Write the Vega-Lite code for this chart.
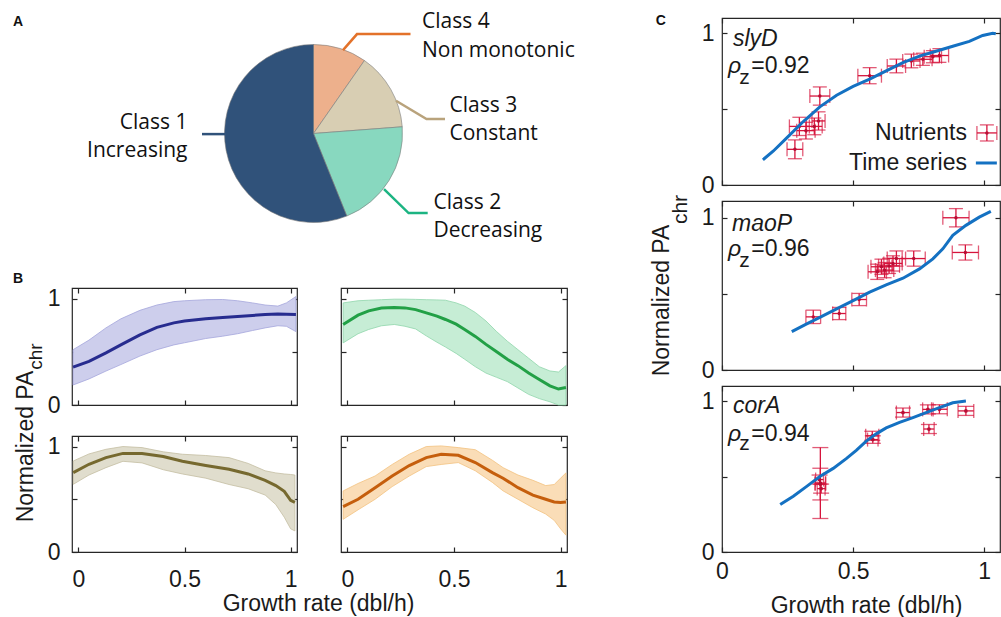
{
"$schema": "https://vega.github.io/schema/vega-lite/v6.json",
"padding": {"left": 12, "top": 10, "right": 0, "bottom": 0},
"background": "white",
"config": {
  "view": {"stroke": "#262626", "strokeWidth": 1.2},
  "axis": {"grid": false, "domain": false, "tickSize": -5, "tickColor": "#262626", "tickWidth": 1.2, "labelFont": "Liberation Sans", "labelFontSize": 23, "labelColor": "#1a1a1a", "titleFont": "Liberation Sans", "titleFontSize": 23, "titleFontWeight": "normal", "titleColor": "#1a1a1a", "labelFlush": false, "labelOverlap": false},
  "text": {"font": "Liberation Sans", "color": "#1a1a1a"}
},
"datasets": {
  "pie": [
    {"cls": "Class 4", "v": 9.7, "o": 1},
    {"cls": "Class 3", "v": 14.1, "o": 2},
    {"cls": "Class 2", "v": 20.1, "o": 3},
    {"cls": "Class 1", "v": 56.1, "o": 4}
  ],
  "alines": [
    {"cls": "Class 4", "i": 0, "x": 0.295, "y": 0.834},
    {"cls": "Class 4", "i": 1, "x": 0.435, "y": 0.994},
    {"cls": "Class 4", "i": 2, "x": 0.97, "y": 0.994},
    {"cls": "Class 3", "i": 0, "x": 0.825, "y": 0.327},
    {"cls": "Class 3", "i": 1, "x": 1.13, "y": 0.144},
    {"cls": "Class 3", "i": 2, "x": 1.315, "y": 0.144},
    {"cls": "Class 2", "i": 0, "x": 0.705, "y": -0.556},
    {"cls": "Class 2", "i": 1, "x": 0.951, "y": -0.796},
    {"cls": "Class 2", "i": 2, "x": 1.142, "y": -0.796},
    {"cls": "Class 1", "i": 0, "x": -1.115, "y": -0.006},
    {"cls": "Class 1", "i": 1, "x": -0.885, "y": -0.006}
  ],
  "atext": [
    {"t": "Class 4", "s": "l", "x": 1.085, "y": 1.12},
    {"t": "Non monotonic", "s": "l", "x": 1.085, "y": 0.827},
    {"t": "Class 3", "s": "l", "x": 1.36, "y": 0.277},
    {"t": "Constant", "s": "l", "x": 1.36, "y": -0.006},
    {"t": "Class 2", "s": "l", "x": 1.2, "y": -0.69},
    {"t": "Decreasing", "s": "l", "x": 1.2, "y": -0.973},
    {"t": "Class 1", "s": "r", "x": -1.26, "y": 0.11},
    {"t": "Increasing", "s": "r", "x": -1.26, "y": -0.173}
  ],
  "letters": [
    {"p": "A", "x": -2.955, "y": 1.117},
    {"p": "B", "x": -0.2845, "y": 1.187},
    {"p": "C", "x": -0.2336, "y": 1.08}
  ],
  "subs": [
    {"p": "B", "t": "chr", "x": -0.17, "y": 0.455},
    {"p": "C", "t": "chr", "x": -0.134, "y": 1.054}
  ],
  "bdata": [
    {"c":"inc","x":-0.025,"y":0.356,"lo":0.188,"hi":0.52},
    {"c":"inc","x":0.05,"y":0.41,"lo":0.245,"hi":0.61},
    {"c":"inc","x":0.13,"y":0.49,"lo":0.319,"hi":0.725},
    {"c":"inc","x":0.2,"y":0.565,"lo":0.38,"hi":0.81},
    {"c":"inc","x":0.29,"y":0.66,"lo":0.46,"hi":0.89},
    {"c":"inc","x":0.37,"y":0.73,"lo":0.52,"hi":0.94},
    {"c":"inc","x":0.45,"y":0.772,"lo":0.565,"hi":0.972},
    {"c":"inc","x":0.5,"y":0.79,"lo":0.585,"hi":0.98},
    {"c":"inc","x":0.6,"y":0.81,"lo":0.625,"hi":0.99},
    {"c":"inc","x":0.68,"y":0.823,"lo":0.647,"hi":0.992},
    {"c":"inc","x":0.75,"y":0.833,"lo":0.67,"hi":0.98},
    {"c":"inc","x":0.82,"y":0.842,"lo":0.7,"hi":0.96},
    {"c":"inc","x":0.88,"y":0.851,"lo":0.725,"hi":0.94},
    {"c":"inc","x":0.94,"y":0.855,"lo":0.745,"hi":0.93},
    {"c":"inc","x":0.98,"y":0.853,"lo":0.74,"hi":0.96},
    {"c":"inc","x":1.025,"y":0.851,"lo":0.69,"hi":1.02},
    {"c":"dec","x":-0.02,"y":0.757,"lo":0.584,"hi":0.96},
    {"c":"dec","x":0.05,"y":0.845,"lo":0.67,"hi":0.98},
    {"c":"dec","x":0.1,"y":0.885,"lo":0.71,"hi":0.985},
    {"c":"dec","x":0.16,"y":0.912,"lo":0.745,"hi":0.99},
    {"c":"dec","x":0.22,"y":0.917,"lo":0.757,"hi":0.995},
    {"c":"dec","x":0.27,"y":0.913,"lo":0.74,"hi":0.995},
    {"c":"dec","x":0.32,"y":0.897,"lo":0.715,"hi":0.993},
    {"c":"dec","x":0.37,"y":0.866,"lo":0.65,"hi":0.99},
    {"c":"dec","x":0.42,"y":0.835,"lo":0.59,"hi":0.988},
    {"c":"dec","x":0.46,"y":0.804,"lo":0.545,"hi":0.985},
    {"c":"dec","x":0.51,"y":0.76,"lo":0.485,"hi":0.96},
    {"c":"dec","x":0.55,"y":0.71,"lo":0.43,"hi":0.93},
    {"c":"dec","x":0.6,"y":0.645,"lo":0.36,"hi":0.87},
    {"c":"dec","x":0.65,"y":0.57,"lo":0.3,"hi":0.79},
    {"c":"dec","x":0.7,"y":0.5,"lo":0.26,"hi":0.69},
    {"c":"dec","x":0.75,"y":0.43,"lo":0.22,"hi":0.6},
    {"c":"dec","x":0.8,"y":0.37,"lo":0.16,"hi":0.52},
    {"c":"dec","x":0.85,"y":0.3,"lo":0.1,"hi":0.44},
    {"c":"dec","x":0.9,"y":0.24,"lo":0.06,"hi":0.36},
    {"c":"dec","x":0.95,"y":0.18,"lo":0.03,"hi":0.32},
    {"c":"dec","x":0.99,"y":0.15,"lo":0.0,"hi":0.31},
    {"c":"dec","x":1.025,"y":0.165,"lo":0.0,"hi":0.37},
    {"c":"const","x":-0.024,"y":0.753,"lo":0.642,"hi":0.863},
    {"c":"const","x":0.05,"y":0.832,"lo":0.73,"hi":0.93},
    {"c":"const","x":0.13,"y":0.895,"lo":0.8,"hi":0.974},
    {"c":"const","x":0.21,"y":0.935,"lo":0.86,"hi":1.0},
    {"c":"const","x":0.3,"y":0.935,"lo":0.845,"hi":0.99},
    {"c":"const","x":0.4,"y":0.905,"lo":0.78,"hi":0.95},
    {"c":"const","x":0.49,"y":0.86,"lo":0.74,"hi":0.927},
    {"c":"const","x":0.6,"y":0.82,"lo":0.7,"hi":0.915},
    {"c":"const","x":0.71,"y":0.785,"lo":0.64,"hi":0.895},
    {"c":"const","x":0.8,"y":0.74,"lo":0.6,"hi":0.84},
    {"c":"const","x":0.88,"y":0.68,"lo":0.54,"hi":0.77},
    {"c":"const","x":0.93,"y":0.63,"lo":0.45,"hi":0.75},
    {"c":"const","x":0.97,"y":0.575,"lo":0.33,"hi":0.74},
    {"c":"const","x":1.0,"y":0.49,"lo":0.22,"hi":0.735},
    {"c":"const","x":1.02,"y":0.47,"lo":0.2,"hi":0.73},
    {"c":"non","x":-0.02,"y":0.43,"lo":0.31,"hi":0.579},
    {"c":"non","x":0.05,"y":0.5,"lo":0.4,"hi":0.65},
    {"c":"non","x":0.13,"y":0.61,"lo":0.5,"hi":0.721},
    {"c":"non","x":0.21,"y":0.72,"lo":0.62,"hi":0.83},
    {"c":"non","x":0.29,"y":0.82,"lo":0.72,"hi":0.927},
    {"c":"non","x":0.37,"y":0.895,"lo":0.81,"hi":1.0},
    {"c":"non","x":0.44,"y":0.927,"lo":0.83,"hi":1.006},
    {"c":"non","x":0.52,"y":0.917,"lo":0.848,"hi":0.99},
    {"c":"non","x":0.6,"y":0.848,"lo":0.77,"hi":0.97},
    {"c":"non","x":0.68,"y":0.753,"lo":0.66,"hi":0.87},
    {"c":"non","x":0.73,"y":0.7,"lo":0.58,"hi":0.8},
    {"c":"non","x":0.8,"y":0.61,"lo":0.5,"hi":0.73},
    {"c":"non","x":0.87,"y":0.54,"lo":0.42,"hi":0.68},
    {"c":"non","x":0.93,"y":0.5,"lo":0.36,"hi":0.63},
    {"c":"non","x":0.97,"y":0.475,"lo":0.3,"hi":0.64},
    {"c":"non","x":1.0,"y":0.47,"lo":0.22,"hi":0.7},
    {"c":"non","x":1.025,"y":0.475,"lo":0.16,"hi":0.75}
  ],
  "pts": [
    {"gene":"slyD","x":0.278,"y":0.235,"xlo":0.248,"xhi":0.308,"ylo":0.173,"yhi":0.297},
    {"gene":"slyD","x":0.295,"y":0.386,"xlo":0.257,"xhi":0.333,"ylo":0.326,"yhi":0.446},
    {"gene":"slyD","x":0.32,"y":0.358,"xlo":0.285,"xhi":0.355,"ylo":0.303,"yhi":0.413},
    {"gene":"slyD","x":0.352,"y":0.386,"xlo":0.322,"xhi":0.382,"ylo":0.331,"yhi":0.441},
    {"gene":"slyD","x":0.368,"y":0.422,"xlo":0.343,"xhi":0.393,"ylo":0.362,"yhi":0.482},
    {"gene":"slyD","x":0.373,"y":0.586,"xlo":0.335,"xhi":0.411,"ylo":0.526,"yhi":0.646},
    {"gene":"slyD","x":0.563,"y":0.72,"xlo":0.518,"xhi":0.608,"ylo":0.667,"yhi":0.773},
    {"gene":"slyD","x":0.665,"y":0.784,"xlo":0.63,"xhi":0.7,"ylo":0.739,"yhi":0.829},
    {"gene":"slyD","x":0.722,"y":0.817,"xlo":0.689,"xhi":0.755,"ylo":0.772,"yhi":0.862},
    {"gene":"slyD","x":0.766,"y":0.828,"xlo":0.731,"xhi":0.801,"ylo":0.788,"yhi":0.868},
    {"gene":"slyD","x":0.804,"y":0.845,"xlo":0.771,"xhi":0.837,"ylo":0.805,"yhi":0.885},
    {"gene":"slyD","x":0.829,"y":0.853,"xlo":0.794,"xhi":0.864,"ylo":0.808,"yhi":0.898},
    {"gene":"legend","x":1.01,"y":0.343,"xlo":0.972,"xhi":1.048,"ylo":0.29,"yhi":0.396},
    {"gene":"maoP","x":0.348,"y":0.349,"xlo":0.32,"xhi":0.376,"ylo":0.305,"yhi":0.393},
    {"gene":"maoP","x":0.447,"y":0.371,"xlo":0.422,"xhi":0.472,"ylo":0.331,"yhi":0.411},
    {"gene":"maoP","x":0.523,"y":0.463,"xlo":0.495,"xhi":0.551,"ylo":0.423,"yhi":0.503},
    {"gene":"maoP","x":0.592,"y":0.645,"xlo":0.557,"xhi":0.627,"ylo":0.595,"yhi":0.695},
    {"gene":"maoP","x":0.608,"y":0.678,"xlo":0.568,"xhi":0.648,"ylo":0.628,"yhi":0.728},
    {"gene":"maoP","x":0.62,"y":0.656,"xlo":0.585,"xhi":0.655,"ylo":0.606,"yhi":0.706},
    {"gene":"maoP","x":0.637,"y":0.684,"xlo":0.597,"xhi":0.677,"ylo":0.634,"yhi":0.734},
    {"gene":"maoP","x":0.652,"y":0.7,"xlo":0.617,"xhi":0.687,"ylo":0.65,"yhi":0.75},
    {"gene":"maoP","x":0.665,"y":0.732,"xlo":0.63,"xhi":0.7,"ylo":0.682,"yhi":0.782},
    {"gene":"maoP","x":0.731,"y":0.732,"xlo":0.687,"xhi":0.775,"ylo":0.682,"yhi":0.782},
    {"gene":"maoP","x":0.892,"y":1.0,"xlo":0.842,"xhi":0.942,"ylo":0.94,"yhi":1.06},
    {"gene":"maoP","x":0.928,"y":0.772,"xlo":0.878,"xhi":0.978,"ylo":0.722,"yhi":0.822},
    {"gene":"corA","x":0.375,"y":0.457,"xlo":0.355,"xhi":0.395,"ylo":0.222,"yhi":0.692},
    {"gene":"corA","x":0.375,"y":0.45,"xlo":0.355,"xhi":0.395,"ylo":0.345,"yhi":0.555},
    {"gene":"corA","x":0.372,"y":0.48,"xlo":0.357,"xhi":0.387,"ylo":0.45,"yhi":0.51},
    {"gene":"corA","x":0.378,"y":0.42,"xlo":0.363,"xhi":0.393,"ylo":0.39,"yhi":0.45},
    {"gene":"corA","x":0.573,"y":0.77,"xlo":0.548,"xhi":0.598,"ylo":0.74,"yhi":0.8},
    {"gene":"corA","x":0.575,"y":0.745,"xlo":0.555,"xhi":0.595,"ylo":0.72,"yhi":0.77},
    {"gene":"corA","x":0.69,"y":0.924,"xlo":0.665,"xhi":0.715,"ylo":0.894,"yhi":0.954},
    {"gene":"corA","x":0.785,"y":0.945,"xlo":0.765,"xhi":0.805,"ylo":0.915,"yhi":0.975},
    {"gene":"corA","x":0.789,"y":0.815,"xlo":0.769,"xhi":0.809,"ylo":0.785,"yhi":0.845},
    {"gene":"corA","x":0.829,"y":0.946,"xlo":0.799,"xhi":0.859,"ylo":0.916,"yhi":0.976},
    {"gene":"corA","x":0.93,"y":0.935,"xlo":0.9,"xhi":0.96,"ylo":0.905,"yhi":0.965}
  ],
  "ts": [
    {"gene":"slyD","x":0.156,"y":0.166},{"gene":"slyD","x":0.196,"y":0.224},{"gene":"slyD","x":0.247,"y":0.31},
    {"gene":"slyD","x":0.31,"y":0.418},{"gene":"slyD","x":0.373,"y":0.515},{"gene":"slyD","x":0.437,"y":0.591},
    {"gene":"slyD","x":0.5,"y":0.649},{"gene":"slyD","x":0.563,"y":0.698},{"gene":"slyD","x":0.626,"y":0.752},
    {"gene":"slyD","x":0.69,"y":0.806},{"gene":"slyD","x":0.753,"y":0.849},{"gene":"slyD","x":0.816,"y":0.881},
    {"gene":"slyD","x":0.88,"y":0.914},{"gene":"slyD","x":0.943,"y":0.946},{"gene":"slyD","x":0.994,"y":0.985},
    {"gene":"slyD","x":1.032,"y":1.0},{"gene":"slyD","x":1.044,"y":0.996},
    {"gene":"legend","x":0.968,"y":0.145},{"gene":"legend","x":1.048,"y":0.145},
    {"gene":"maoP","x":0.266,"y":0.252},{"gene":"maoP","x":0.323,"y":0.303},{"gene":"maoP","x":0.373,"y":0.346},
    {"gene":"maoP","x":0.437,"y":0.401},{"gene":"maoP","x":0.5,"y":0.456},{"gene":"maoP","x":0.563,"y":0.511},
    {"gene":"maoP","x":0.626,"y":0.559},{"gene":"maoP","x":0.69,"y":0.603},{"gene":"maoP","x":0.753,"y":0.664},
    {"gene":"maoP","x":0.804,"y":0.73},{"gene":"maoP","x":0.842,"y":0.796},{"gene":"maoP","x":0.88,"y":0.884},
    {"gene":"maoP","x":0.93,"y":0.95},{"gene":"maoP","x":0.981,"y":1.004},{"gene":"maoP","x":1.025,"y":1.042},
    {"gene":"corA","x":0.222,"y":0.315},{"gene":"corA","x":0.272,"y":0.37},{"gene":"corA","x":0.323,"y":0.435},
    {"gene":"corA","x":0.373,"y":0.5},{"gene":"corA","x":0.424,"y":0.554},{"gene":"corA","x":0.475,"y":0.62},
    {"gene":"corA","x":0.512,"y":0.674},{"gene":"corA","x":0.55,"y":0.735},{"gene":"corA","x":0.588,"y":0.783},
    {"gene":"corA","x":0.626,"y":0.822},{"gene":"corA","x":0.677,"y":0.859},{"gene":"corA","x":0.728,"y":0.891},
    {"gene":"corA","x":0.778,"y":0.924},{"gene":"corA","x":0.829,"y":0.957},{"gene":"corA","x":0.88,"y":0.989},
    {"gene":"corA","x":0.93,"y":1.0}
  ],
  "cann": [
    {"gene":"slyD","k":"g","t":"slyD","x":0.042,"y":0.962},
    {"gene":"slyD","k":"r","t":"ρ","x":0.023,"y":0.784},
    {"gene":"slyD","k":"s","t":"z","x":0.066,"y":0.706},
    {"gene":"slyD","k":"v","t":"=0.92","x":0.112,"y":0.784},
    {"gene":"slyD","k":"l","t":"Nutrients","x":0.934,"y":0.343},
    {"gene":"slyD","k":"l","t":"Time series","x":0.934,"y":0.145},
    {"gene":"maoP","k":"g","t":"maoP","x":0.038,"y":0.959},
    {"gene":"maoP","k":"r","t":"ρ","x":0.023,"y":0.795},
    {"gene":"maoP","k":"s","t":"z","x":0.066,"y":0.713},
    {"gene":"maoP","k":"v","t":"=0.96","x":0.112,"y":0.795},
    {"gene":"corA","k":"g","t":"corA","x":0.042,"y":0.969},
    {"gene":"corA","k":"r","t":"ρ","x":0.023,"y":0.782},
    {"gene":"corA","k":"s","t":"z","x":0.066,"y":0.716},
    {"gene":"corA","k":"v","t":"=0.94","x":0.112,"y":0.782}
  ]
},
"spacing": 74,
"hconcat": [
 {"spacing": 22, "vconcat": [
  {
   "width": 483, "height": 231, "view": {"stroke": null},
   "layer": [
    {"data": {"name": "pie"}, "mark": {"type": "arc", "outerRadius": 89, "stroke": "#7a7a7a", "strokeWidth": 0.6},
     "encoding": {"theta": {"field": "v", "type": "quantitative"}, "order": {"field": "o", "type": "quantitative"},
      "fill": {"field": "cls", "type": "nominal", "scale": {"domain": ["Class 1","Class 2","Class 3","Class 4"], "range": ["#30527A","#88D8BF","#D8CEB3","#EDB08C"]}, "legend": null}}},
    {"data": {"name": "alines"}, "mark": {"type": "line", "strokeWidth": 2.5},
     "encoding": {"x": {"field": "x", "type": "quantitative", "scale": {"domain": [-2.415, 2.415], "nice": false}, "axis": null},
      "y": {"field": "y", "type": "quantitative", "scale": {"domain": [-1.155, 1.155], "nice": false}, "axis": null},
      "order": {"field": "i", "type": "quantitative"},
      "stroke": {"field": "cls", "type": "nominal", "scale": {"domain": ["Class 1","Class 2","Class 3","Class 4"], "range": ["#30527A","#1CB482","#B9A37C","#E3722A"]}, "legend": null}}},
    {"data": {"name": "atext"}, "transform": [{"filter": "datum.s == 'l'"}],
     "mark": {"type": "text", "font": "Open Sans", "fontSize": 21, "align": "left", "baseline": "middle", "color": "#111111"},
     "encoding": {"x": {"field": "x", "type": "quantitative"}, "y": {"field": "y", "type": "quantitative"}, "text": {"field": "t"}}},
    {"data": {"name": "atext"}, "transform": [{"filter": "datum.s == 'r'"}],
     "mark": {"type": "text", "font": "Open Sans", "fontSize": 21, "align": "right", "baseline": "middle", "color": "#111111"},
     "encoding": {"x": {"field": "x", "type": "quantitative"}, "y": {"field": "y", "type": "quantitative"}, "text": {"field": "t"}}},
    {"data": {"name": "letters"}, "transform": [{"filter": "datum.p == 'A'"}],
     "mark": {"type": "text", "fontSize": 14, "fontWeight": "bold", "align": "center", "baseline": "middle", "color": "#111111"},
     "encoding": {"x": {"field": "x", "type": "quantitative"}, "y": {"field": "y", "type": "quantitative"}, "text": {"field": "p"}}}
   ]
  },
  {"bounds": "flush", "columns": 2, "spacing": {"row": 31, "column": 44}, "concat": [
    {
     "width": 225, "height": 117,
     "layer": [
      {"layer": [
       {"data": {"name": "bdata"}, "transform": [{"filter": "datum.c == 'inc'"}],
        "mark": {"type": "area", "fill": "#CDCEEC", "stroke": "#A4A6DC", "strokeWidth": 0.8},
        "encoding": {
         "x": {"field": "x", "type": "quantitative", "scale": {"domain": [-0.03, 1.03], "nice": false}, "axis": {"values": [0, 0.5, 1], "labels": false, "title": null}},
         "y": {"field": "lo", "type": "quantitative", "scale": {"domain": [0, 1.1], "nice": false}, "axis": {"values": [0, 0.5, 1], "format": "~g", "labelExpr": "datum.value == 0.5 ? '' : datum.label", "labelPadding": 17, "labelBaseline": "middle", "title": "Normalized PA", "titleX": -40, "titleY": 158, "titleBaseline": "alphabetic", "titleAngle": 270, "titleAlign": "center"}},
         "y2": {"field": "hi"}}},
       {"data": {"name": "bdata"}, "transform": [{"filter": "datum.c == 'inc'"}],
        "mark": {"type": "line", "color": "#272C8F", "strokeWidth": 3},
        "encoding": {"x": {"field": "x", "type": "quantitative"}, "y": {"field": "y", "type": "quantitative"}}},
       {"data": {"name": "letters"}, "transform": [{"filter": "datum.p == 'B'"}],
        "mark": {"type": "text", "fontSize": 14, "fontWeight": "bold", "align": "center", "baseline": "middle", "color": "#111111"},
        "encoding": {"x": {"field": "x", "type": "quantitative"}, "y": {"field": "y", "type": "quantitative"}, "text": {"field": "p"}}},
       {"data": {"name": "subs"}, "transform": [{"filter": "datum.p == 'B'"}],
        "mark": {"type": "text", "fontSize": 19, "angle": 270, "align": "center", "baseline": "alphabetic"},
        "encoding": {"x": {"field": "x", "type": "quantitative"}, "y": {"field": "y", "type": "quantitative"}, "text": {"field": "t"}}}
      ]},
      {"data": {"values": [{"x": 0.5, "y": 0.5}]}, "mark": {"type": "point", "opacity": 0},
       "encoding": {"x": {"field": "x", "type": "quantitative", "axis": {"orient": "top", "values": [0, 0.5, 1], "labels": false, "title": null}},
        "y": {"field": "y", "type": "quantitative", "axis": {"orient": "right", "values": [0, 0.5, 1], "labels": false, "title": null}}}}
     ],
     "resolve": {"axis": {"x": "independent", "y": "independent"}}
    },
    {
     "width": 226, "height": 117,
     "layer": [
      {"layer": [
       {"data": {"name": "bdata"}, "transform": [{"filter": "datum.c == 'dec'"}],
        "mark": {"type": "area", "fill": "#C6EDD5", "stroke": "#8FD5AB", "strokeWidth": 0.8},
        "encoding": {
         "x": {"field": "x", "type": "quantitative", "scale": {"domain": [-0.03, 1.03], "nice": false}, "axis": {"values": [0, 0.5, 1], "labels": false, "title": null}},
         "y": {"field": "lo", "type": "quantitative", "scale": {"domain": [0, 1.1], "nice": false}, "axis": {"values": [0, 0.5, 1], "labels": false, "title": null}},
         "y2": {"field": "hi"}}},
       {"data": {"name": "bdata"}, "transform": [{"filter": "datum.c == 'dec'"}],
        "mark": {"type": "line", "color": "#22A046", "strokeWidth": 3},
        "encoding": {"x": {"field": "x", "type": "quantitative"}, "y": {"field": "y", "type": "quantitative"}}}
      ]},
      {"data": {"values": [{"x": 0.5, "y": 0.5}]}, "mark": {"type": "point", "opacity": 0},
       "encoding": {"x": {"field": "x", "type": "quantitative", "axis": {"orient": "top", "values": [0, 0.5, 1], "labels": false, "title": null}},
        "y": {"field": "y", "type": "quantitative", "axis": {"orient": "right", "values": [0, 0.5, 1], "labels": false, "title": null}}}}
     ],
     "resolve": {"axis": {"x": "independent", "y": "independent"}}
    },
    {
     "width": 225, "height": 116,
     "layer": [
      {"layer": [
       {"data": {"name": "bdata"}, "transform": [{"filter": "datum.c == 'const'"}],
        "mark": {"type": "area", "fill": "#E0DDCD", "stroke": "#C4BEA2", "strokeWidth": 0.8},
        "encoding": {
         "x": {"field": "x", "type": "quantitative", "scale": {"domain": [-0.03, 1.03], "nice": false}, "axis": {"values": [0, 0.5, 1], "format": "~g", "labelPadding": 39, "labelBaseline": "alphabetic", "title": "Growth rate (dbl/h)", "titleX": 246, "titleY": 58, "titleBaseline": "alphabetic", "titleAlign": "center"}},
         "y": {"field": "lo", "type": "quantitative", "scale": {"domain": [0, 1.1], "nice": false}, "axis": {"values": [0, 0.5, 1], "format": "~g", "labelExpr": "datum.value == 0.5 ? '' : datum.label", "labelPadding": 17, "labelBaseline": "middle", "title": null}},
         "y2": {"field": "hi"}}},
       {"data": {"name": "bdata"}, "transform": [{"filter": "datum.c == 'const'"}],
        "mark": {"type": "line", "color": "#76692F", "strokeWidth": 3},
        "encoding": {"x": {"field": "x", "type": "quantitative"}, "y": {"field": "y", "type": "quantitative"}}}
      ]},
      {"data": {"values": [{"x": 0.5, "y": 0.5}]}, "mark": {"type": "point", "opacity": 0},
       "encoding": {"x": {"field": "x", "type": "quantitative", "axis": {"orient": "top", "values": [0, 0.5, 1], "labels": false, "title": null}},
        "y": {"field": "y", "type": "quantitative", "axis": {"orient": "right", "values": [0, 0.5, 1], "labels": false, "title": null}}}}
     ],
     "resolve": {"axis": {"x": "independent", "y": "independent"}}
    },
    {
     "width": 226, "height": 116,
     "layer": [
      {"layer": [
       {"data": {"name": "bdata"}, "transform": [{"filter": "datum.c == 'non'"}],
        "mark": {"type": "area", "fill": "#FADDB7", "stroke": "#F2C17F", "strokeWidth": 0.8},
        "encoding": {
         "x": {"field": "x", "type": "quantitative", "scale": {"domain": [-0.03, 1.03], "nice": false}, "axis": {"values": [0, 0.5, 1], "format": "~g", "labelPadding": 39, "labelBaseline": "alphabetic", "title": null}},
         "y": {"field": "lo", "type": "quantitative", "scale": {"domain": [0, 1.1], "nice": false}, "axis": {"values": [0, 0.5, 1], "labels": false, "title": null}},
         "y2": {"field": "hi"}}},
       {"data": {"name": "bdata"}, "transform": [{"filter": "datum.c == 'non'"}],
        "mark": {"type": "line", "color": "#C55E0C", "strokeWidth": 3},
        "encoding": {"x": {"field": "x", "type": "quantitative"}, "y": {"field": "y", "type": "quantitative"}}}
      ]},
      {"data": {"values": [{"x": 0.5, "y": 0.5}]}, "mark": {"type": "point", "opacity": 0},
       "encoding": {"x": {"field": "x", "type": "quantitative", "axis": {"orient": "top", "values": [0, 0.5, 1], "labels": false, "title": null}},
        "y": {"field": "y", "type": "quantitative", "axis": {"orient": "right", "values": [0, 0.5, 1], "labels": false, "title": null}}}}
     ],
     "resolve": {"axis": {"x": "independent", "y": "independent"}}
    }
  ]}
 ]},
 {"bounds": "flush", "spacing": 16, "vconcat": [
  {
   "width": 278, "height": 167,
   "layer": [
    {"layer": [
     {"data": {"name": "pts"}, "transform": [{"filter": "datum.gene == 'slyD' || datum.gene == 'legend'"}],
      "mark": {"type": "rule", "color": "#D6143C", "strokeWidth": 1.3},
      "encoding": {"x": {"field": "x", "type": "quantitative", "scale": {"domain": [0, 1.06], "nice": false}, "axis": {"values": [0, 0.5, 1], "labels": false, "title": null}},
       "y": {"field": "ylo", "type": "quantitative", "scale": {"domain": [0, 1.1], "nice": false}, "axis": {"values": [0, 0.5, 1], "format": "~g", "labelExpr": "datum.value == 0.5 ? '' : datum.label", "labelPadding": 13, "labelBaseline": "middle", "title": null}},
       "y2": {"field": "yhi"}}},
     {"data": {"name": "pts"}, "transform": [{"filter": "datum.gene == 'slyD' || datum.gene == 'legend'"}],
      "mark": {"type": "rule", "color": "#D6143C", "strokeWidth": 1.3},
      "encoding": {"x": {"field": "xlo", "type": "quantitative"}, "x2": {"field": "xhi"}, "y": {"field": "y", "type": "quantitative"}}},
     {"data": {"name": "pts"}, "transform": [{"filter": "datum.gene == 'slyD' || datum.gene == 'legend'"}, {"fold": ["ylo", "yhi"], "as": ["k", "cv"]}],
      "mark": {"type": "tick", "orient": "horizontal", "size": 14, "thickness": 1.3, "color": "#D6143C"},
      "encoding": {"x": {"field": "x", "type": "quantitative"}, "y": {"field": "cv", "type": "quantitative"}}},
     {"data": {"name": "pts"}, "transform": [{"filter": "datum.gene == 'slyD' || datum.gene == 'legend'"}, {"fold": ["xlo", "xhi"], "as": ["k", "cv"]}],
      "mark": {"type": "tick", "orient": "vertical", "size": 14, "thickness": 1.3, "color": "#D6143C"},
      "encoding": {"x": {"field": "cv", "type": "quantitative"}, "y": {"field": "y", "type": "quantitative"}}},
     {"data": {"name": "pts"}, "transform": [{"filter": "datum.gene == 'slyD' || datum.gene == 'legend'"}],
      "mark": {"type": "point", "filled": true, "size": 12, "color": "#B80E35", "opacity": 1},
      "encoding": {"x": {"field": "x", "type": "quantitative"}, "y": {"field": "y", "type": "quantitative"}}},
     {"data": {"name": "ts"}, "transform": [{"filter": "datum.gene == 'slyD' || datum.gene == 'legend'"}],
      "mark": {"type": "line", "color": "#1471C2", "strokeWidth": 3},
      "encoding": {"x": {"field": "x", "type": "quantitative"}, "y": {"field": "y", "type": "quantitative"}, "detail": {"field": "gene"}}},
     {"data": {"name": "cann"}, "transform": [{"filter": "datum.gene == 'slyD' && (datum.k == 'g' || datum.k == 'r')"}],
      "mark": {"type": "text", "fontSize": 23, "fontStyle": "italic", "align": "left", "baseline": "middle"},
      "encoding": {"x": {"field": "x", "type": "quantitative"}, "y": {"field": "y", "type": "quantitative"}, "text": {"field": "t"}}},
     {"data": {"name": "cann"}, "transform": [{"filter": "datum.gene == 'slyD' && datum.k == 's'"}],
      "mark": {"type": "text", "fontSize": 21, "align": "left", "baseline": "middle"},
      "encoding": {"x": {"field": "x", "type": "quantitative"}, "y": {"field": "y", "type": "quantitative"}, "text": {"field": "t"}}},
     {"data": {"name": "cann"}, "transform": [{"filter": "datum.gene == 'slyD' && datum.k == 'v'"}],
      "mark": {"type": "text", "fontSize": 23, "align": "left", "baseline": "middle"},
      "encoding": {"x": {"field": "x", "type": "quantitative"}, "y": {"field": "y", "type": "quantitative"}, "text": {"field": "t"}}},
     {"data": {"name": "cann"}, "transform": [{"filter": "datum.gene == 'slyD' && datum.k == 'l'"}],
      "mark": {"type": "text", "fontSize": 23, "align": "right", "baseline": "middle"},
      "encoding": {"x": {"field": "x", "type": "quantitative"}, "y": {"field": "y", "type": "quantitative"}, "text": {"field": "t"}}},
     {"data": {"name": "letters"}, "transform": [{"filter": "datum.p == 'C'"}],
      "mark": {"type": "text", "fontSize": 14, "fontWeight": "bold", "align": "center", "baseline": "middle", "color": "#111111"},
      "encoding": {"x": {"field": "x", "type": "quantitative"}, "y": {"field": "y", "type": "quantitative"}, "text": {"field": "p"}}}
    ]},
    {"data": {"values": [{"x": 0.5, "y": 0.5}]}, "mark": {"type": "point", "opacity": 0},
     "encoding": {"x": {"field": "x", "type": "quantitative", "axis": {"orient": "top", "values": [0, 0.5, 1], "labels": false, "title": null}},
      "y": {"field": "y", "type": "quantitative", "axis": {"orient": "right", "values": [0, 0.5, 1], "labels": false, "title": null}}}}
   ],
   "resolve": {"axis": {"x": "independent", "y": "independent"}}
  },
  {
   "width": 278, "height": 169,
   "layer": [
    {"layer": [
     {"data": {"name": "pts"}, "transform": [{"filter": "datum.gene == 'maoP'"}],
      "mark": {"type": "rule", "color": "#D6143C", "strokeWidth": 1.3},
      "encoding": {"x": {"field": "x", "type": "quantitative", "scale": {"domain": [0, 1.06], "nice": false}, "axis": {"values": [0, 0.5, 1], "labels": false, "title": null}},
       "y": {"field": "ylo", "type": "quantitative", "scale": {"domain": [0, 1.11], "nice": false}, "axis": {"values": [0, 0.5, 1], "format": "~g", "labelExpr": "datum.value == 0.5 ? '' : datum.label", "labelPadding": 13, "labelBaseline": "middle", "title": "Normalized PA", "titleX": -54, "titleY": 99, "titleBaseline": "alphabetic", "titleAngle": 270, "titleAlign": "center"}},
       "y2": {"field": "yhi"}}},
     {"data": {"name": "pts"}, "transform": [{"filter": "datum.gene == 'maoP'"}],
      "mark": {"type": "rule", "color": "#D6143C", "strokeWidth": 1.3},
      "encoding": {"x": {"field": "xlo", "type": "quantitative"}, "x2": {"field": "xhi"}, "y": {"field": "y", "type": "quantitative"}}},
     {"data": {"name": "pts"}, "transform": [{"filter": "datum.gene == 'maoP'"}, {"fold": ["ylo", "yhi"], "as": ["k", "cv"]}],
      "mark": {"type": "tick", "orient": "horizontal", "size": 14, "thickness": 1.3, "color": "#D6143C"},
      "encoding": {"x": {"field": "x", "type": "quantitative"}, "y": {"field": "cv", "type": "quantitative"}}},
     {"data": {"name": "pts"}, "transform": [{"filter": "datum.gene == 'maoP'"}, {"fold": ["xlo", "xhi"], "as": ["k", "cv"]}],
      "mark": {"type": "tick", "orient": "vertical", "size": 14, "thickness": 1.3, "color": "#D6143C"},
      "encoding": {"x": {"field": "cv", "type": "quantitative"}, "y": {"field": "y", "type": "quantitative"}}},
     {"data": {"name": "pts"}, "transform": [{"filter": "datum.gene == 'maoP'"}],
      "mark": {"type": "point", "filled": true, "size": 12, "color": "#B80E35", "opacity": 1},
      "encoding": {"x": {"field": "x", "type": "quantitative"}, "y": {"field": "y", "type": "quantitative"}}},
     {"data": {"name": "ts"}, "transform": [{"filter": "datum.gene == 'maoP'"}],
      "mark": {"type": "line", "color": "#1471C2", "strokeWidth": 3},
      "encoding": {"x": {"field": "x", "type": "quantitative"}, "y": {"field": "y", "type": "quantitative"}}},
     {"data": {"name": "cann"}, "transform": [{"filter": "datum.gene == 'maoP' && (datum.k == 'g' || datum.k == 'r')"}],
      "mark": {"type": "text", "fontSize": 23, "fontStyle": "italic", "align": "left", "baseline": "middle"},
      "encoding": {"x": {"field": "x", "type": "quantitative"}, "y": {"field": "y", "type": "quantitative"}, "text": {"field": "t"}}},
     {"data": {"name": "cann"}, "transform": [{"filter": "datum.gene == 'maoP' && datum.k == 's'"}],
      "mark": {"type": "text", "fontSize": 21, "align": "left", "baseline": "middle"},
      "encoding": {"x": {"field": "x", "type": "quantitative"}, "y": {"field": "y", "type": "quantitative"}, "text": {"field": "t"}}},
     {"data": {"name": "cann"}, "transform": [{"filter": "datum.gene == 'maoP' && datum.k == 'v'"}],
      "mark": {"type": "text", "fontSize": 23, "align": "left", "baseline": "middle"},
      "encoding": {"x": {"field": "x", "type": "quantitative"}, "y": {"field": "y", "type": "quantitative"}, "text": {"field": "t"}}},
     {"data": {"name": "subs"}, "transform": [{"filter": "datum.p == 'C'"}],
      "mark": {"type": "text", "fontSize": 21, "angle": 270, "align": "center", "baseline": "alphabetic"},
      "encoding": {"x": {"field": "x", "type": "quantitative"}, "y": {"field": "y", "type": "quantitative"}, "text": {"field": "t"}}}
    ]},
    {"data": {"values": [{"x": 0.5, "y": 0.5}]}, "mark": {"type": "point", "opacity": 0},
     "encoding": {"x": {"field": "x", "type": "quantitative", "axis": {"orient": "top", "values": [0, 0.5, 1], "labels": false, "title": null}},
      "y": {"field": "y", "type": "quantitative", "axis": {"orient": "right", "values": [0, 0.5, 1], "labels": false, "title": null}}}}
   ],
   "resolve": {"axis": {"x": "independent", "y": "independent"}}
  },
  {
   "width": 278, "height": 166,
   "layer": [
    {"layer": [
     {"data": {"name": "pts"}, "transform": [{"filter": "datum.gene == 'corA'"}],
      "mark": {"type": "rule", "color": "#D6143C", "strokeWidth": 1.3},
      "encoding": {"x": {"field": "x", "type": "quantitative", "scale": {"domain": [0, 1.06], "nice": false}, "axis": {"values": [0, 0.5, 1], "format": "~g", "labelPadding": 31, "labelBaseline": "alphabetic", "title": "Growth rate (dbl/h)", "titleX": 144, "titleY": 60, "titleBaseline": "alphabetic", "titleAlign": "center"}},
       "y": {"field": "ylo", "type": "quantitative", "scale": {"domain": [0, 1.1], "nice": false}, "axis": {"values": [0, 0.5, 1], "format": "~g", "labelExpr": "datum.value == 0.5 ? '' : datum.label", "labelPadding": 13, "labelBaseline": "middle", "title": null}},
       "y2": {"field": "yhi"}}},
     {"data": {"name": "pts"}, "transform": [{"filter": "datum.gene == 'corA'"}],
      "mark": {"type": "rule", "color": "#D6143C", "strokeWidth": 1.3},
      "encoding": {"x": {"field": "xlo", "type": "quantitative"}, "x2": {"field": "xhi"}, "y": {"field": "y", "type": "quantitative"}}},
     {"data": {"name": "pts"}, "transform": [{"filter": "datum.gene == 'corA'"}, {"fold": ["ylo", "yhi"], "as": ["k", "cv"]}],
      "mark": {"type": "tick", "orient": "horizontal", "size": 16, "thickness": 1.3, "color": "#D6143C"},
      "encoding": {"x": {"field": "x", "type": "quantitative"}, "y": {"field": "cv", "type": "quantitative"}}},
     {"data": {"name": "pts"}, "transform": [{"filter": "datum.gene == 'corA'"}, {"fold": ["xlo", "xhi"], "as": ["k", "cv"]}],
      "mark": {"type": "tick", "orient": "vertical", "size": 14, "thickness": 1.3, "color": "#D6143C"},
      "encoding": {"x": {"field": "cv", "type": "quantitative"}, "y": {"field": "y", "type": "quantitative"}}},
     {"data": {"name": "pts"}, "transform": [{"filter": "datum.gene == 'corA'"}],
      "mark": {"type": "point", "filled": true, "size": 14, "color": "#B80E35", "opacity": 1},
      "encoding": {"x": {"field": "x", "type": "quantitative"}, "y": {"field": "y", "type": "quantitative"}}},
     {"data": {"name": "ts"}, "transform": [{"filter": "datum.gene == 'corA'"}],
      "mark": {"type": "line", "color": "#1471C2", "strokeWidth": 3},
      "encoding": {"x": {"field": "x", "type": "quantitative"}, "y": {"field": "y", "type": "quantitative"}}},
     {"data": {"name": "cann"}, "transform": [{"filter": "datum.gene == 'corA' && (datum.k == 'g' || datum.k == 'r')"}],
      "mark": {"type": "text", "fontSize": 23, "fontStyle": "italic", "align": "left", "baseline": "middle"},
      "encoding": {"x": {"field": "x", "type": "quantitative"}, "y": {"field": "y", "type": "quantitative"}, "text": {"field": "t"}}},
     {"data": {"name": "cann"}, "transform": [{"filter": "datum.gene == 'corA' && datum.k == 's'"}],
      "mark": {"type": "text", "fontSize": 21, "align": "left", "baseline": "middle"},
      "encoding": {"x": {"field": "x", "type": "quantitative"}, "y": {"field": "y", "type": "quantitative"}, "text": {"field": "t"}}},
     {"data": {"name": "cann"}, "transform": [{"filter": "datum.gene == 'corA' && datum.k == 'v'"}],
      "mark": {"type": "text", "fontSize": 23, "align": "left", "baseline": "middle"},
      "encoding": {"x": {"field": "x", "type": "quantitative"}, "y": {"field": "y", "type": "quantitative"}, "text": {"field": "t"}}}
    ]},
    {"data": {"values": [{"x": 0.5, "y": 0.5}]}, "mark": {"type": "point", "opacity": 0},
     "encoding": {"x": {"field": "x", "type": "quantitative", "axis": {"orient": "top", "values": [0, 0.5, 1], "labels": false, "title": null}},
      "y": {"field": "y", "type": "quantitative", "axis": {"orient": "right", "values": [0, 0.5, 1], "labels": false, "title": null}}}}
   ],
   "resolve": {"axis": {"x": "independent", "y": "independent"}}
  }
 ]}
]
}
